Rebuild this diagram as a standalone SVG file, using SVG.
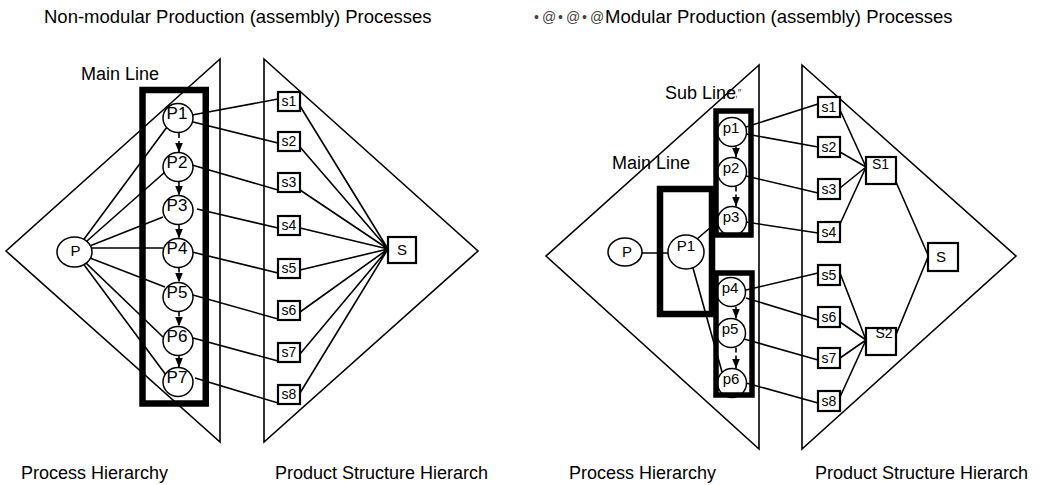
<svg xmlns="http://www.w3.org/2000/svg" width="1040" height="485" viewBox="0 0 1040 485">
<defs>
<style>
.tri{fill:none;stroke:#000;stroke-width:1.6}
.ln{fill:none;stroke:#000;stroke-width:1.6}
.nd{fill:#fff;stroke:#000;stroke-width:1.5}
.bx{fill:#fff;stroke:#000;stroke-width:2.2}
.thick{fill:none;stroke:#000;stroke-width:6.5}
.arr{fill:none;stroke:#000;stroke-width:1.6;stroke-dasharray:5 3;marker-end:url(#ah)}
text{font-family:"Liberation Sans",Arial,sans-serif;fill:#000}
.lbl{font-size:18px}
.pt{font-size:17px;text-anchor:middle}
.pr{font-size:15px;text-anchor:middle}
.st{font-size:14px;text-anchor:middle}
.junk{font-size:14px;fill:#444}
</style>
<marker id="ah" viewBox="0 0 10 8" refX="10" refY="4" markerWidth="10" markerHeight="8" markerUnits="userSpaceOnUse" orient="auto">
<path d="M0,0 L10,4 L0,8 z" fill="#000"/>
</marker>
</defs>
<rect width="1040" height="485" fill="#fff"/>

<g id="frames">
<polygon class="tri" points="220,59 6,251 220,442"/>
<polygon class="tri" points="264,59 478,251 264,442"/>
<polygon class="tri" points="759,65 546,256 759,449"/>
<polygon class="tri" points="802,65 1016,256 802,449"/>
</g>

<g id="connectors">
<path class="ln" d="M74.5,252 L167,127 M74.5,252 L165,172 M74.5,252 L163,217 M74.5,248 L163,248 M74.5,252 L165,287 M74.5,252 L163,337 M74.5,252 L166,375"/>
<path class="ln" d="M192,115 L278,99 M193,122 L278,143 M192,165 L278,190 M197,209 L278,228 M192,252 L278,273 M193,295 L278,319 M193,338 L278,361 M195,378 L278,403"/>
<path class="ln" d="M300,106 L388,249 M300,147 L388,249 M300,190 L388,249 M300,228 L388,249 M300,270 L388,249 M300,312 L388,249 M300,354 L388,249 M300,393 L388,249"/>
<line class="arr" x1="179" y1="133" x2="179" y2="152.5"/>
<line class="arr" x1="179" y1="181.5" x2="179" y2="195.5"/>
<line class="arr" x1="179" y1="224.5" x2="179" y2="238.5"/>
<line class="arr" x1="179" y1="267.5" x2="179" y2="282.5"/>
<line class="arr" x1="179" y1="311.5" x2="179" y2="326.5"/>
<line class="arr" x1="179" y1="355.5" x2="179" y2="367.5"/>

<path class="ln" d="M642,253 L668,253 M697,239 L711,227 M693,268 L722,372"/>
<path class="ln" d="M746,127 L818,104 M746,134 L818,147 M746,176 L818,193 M746,222 L818,233 M746,290 L818,273 M746,298 L818,320 M744,339 L818,360 M746,383 L818,403"/>
<path class="ln" d="M840,110 L866,167 M840,152 L866,167 M840,188 L866,167 M840,224 L866,167"/>
<path class="ln" d="M840,273 L866,340 M840,322 L866,340 M840,358 L866,340 M840,397 L866,340"/>
<path class="ln" d="M896,182 L928,255 M893,342 L928,257 M893,338 L894,346"/>
<line class="arr" x1="736" y1="146.5" x2="736" y2="157.5"/>
<line class="arr" x1="736" y1="186.5" x2="736" y2="206.5"/>
<line class="arr" x1="736" y1="306.5" x2="736" y2="318.5"/>
<line class="arr" x1="736" y1="347.5" x2="736" y2="368.5"/>
</g>

<g id="L-P"><ellipse class="nd" cx="74.5" cy="252" rx="17.5" ry="15"/><text class="pr" x="75.5" y="256">P</text></g>
<g id="L-P1"><ellipse class="nd" cx="178" cy="118" rx="15" ry="14.5"/><text class="pt" x="177" y="119">P1</text></g>
<g id="L-P2"><ellipse class="nd" cx="178" cy="167" rx="15" ry="14.5"/><text class="pt" x="177" y="168">P2</text></g>
<g id="L-P3"><ellipse class="nd" cx="178" cy="210" rx="15" ry="14.5"/><text class="pt" x="177" y="211">P3</text></g>
<g id="L-P4"><ellipse class="nd" cx="178" cy="253" rx="15" ry="14.5"/><text class="pt" x="177" y="254">P4</text></g>
<g id="L-P5"><ellipse class="nd" cx="178" cy="297" rx="15" ry="14.5"/><text class="pt" x="177" y="298">P5</text></g>
<g id="L-P6"><ellipse class="nd" cx="178" cy="341" rx="15" ry="14.5"/><text class="pt" x="177" y="342">P6</text></g>
<g id="L-P7"><ellipse class="nd" cx="178" cy="382" rx="15" ry="14.5"/><text class="pt" x="177" y="383">P7</text></g>
<g id="L-mainline"><rect class="thick" x="142.5" y="90" width="63.25" height="313.5"/></g>

<g id="L-s1"><rect class="bx" x="278" y="92" width="22" height="19"/><text class="st" x="289" y="106">s1</text></g>
<g id="L-s2"><rect class="bx" x="278" y="132" width="22" height="19"/><text class="st" x="289" y="146">s2</text></g>
<g id="L-s3"><rect class="bx" x="278" y="173" width="22" height="19"/><text class="st" x="289" y="187">s3</text></g>
<g id="L-s4"><rect class="bx" x="278" y="216" width="22" height="19"/><text class="st" x="289" y="230">s4</text></g>
<g id="L-s5"><rect class="bx" x="278" y="259" width="22" height="19"/><text class="st" x="289" y="273">s5</text></g>
<g id="L-s6"><rect class="bx" x="278" y="301" width="22" height="19"/><text class="st" x="289" y="315">s6</text></g>
<g id="L-s7"><rect class="bx" x="278" y="343" width="22" height="19"/><text class="st" x="289" y="357">s7</text></g>
<g id="L-s8"><rect class="bx" x="278" y="385" width="22" height="19"/><text class="st" x="289" y="399">s8</text></g>
<g id="L-S"><rect class="bx" x="388" y="237" width="28" height="26"/><text class="pr" x="402" y="255">S</text></g>

<g id="R-P"><ellipse class="nd" cx="625" cy="252" rx="17" ry="14"/><text class="pr" x="627" y="257">P</text></g>
<g id="R-P1"><ellipse class="nd" cx="686" cy="252" rx="18" ry="17"/><text class="pr" x="686" y="251">P1</text></g>
<g id="R-p1"><ellipse class="nd" cx="732" cy="132" rx="14.5" ry="14.5"/><text class="pr" x="731" y="133">p1</text></g>
<g id="R-p2"><ellipse class="nd" cx="732" cy="172" rx="14.5" ry="14.5"/><text class="pr" x="731" y="173">p2</text></g>
<g id="R-p3"><ellipse class="nd" cx="732" cy="221" rx="14.5" ry="14.5"/><text class="pr" x="731" y="222">p3</text></g>
<g id="R-p4"><ellipse class="nd" cx="731" cy="292" rx="14.5" ry="14.5"/><text class="pr" x="730" y="293">p4</text></g>
<g id="R-p5"><ellipse class="nd" cx="731" cy="333" rx="14.5" ry="14.5"/><text class="pr" x="730" y="334">p5</text></g>
<g id="R-p6"><ellipse class="nd" cx="732" cy="383" rx="14.5" ry="14.5"/><text class="pr" x="731" y="384">p6</text></g>
<g id="R-mainline"><rect class="thick" x="660" y="189" width="52" height="125"/></g>
<g id="R-subline1"><rect class="thick" x="716" y="111" width="35" height="124" style="stroke-width:5.5"/></g>
<g id="R-subline2"><rect class="thick" x="716" y="273" width="36" height="122" style="stroke-width:5.5"/></g>

<g id="R-s1"><rect class="bx" x="818" y="97" width="22" height="20"/><text class="st" x="829" y="112">s1</text></g>
<g id="R-s2"><rect class="bx" x="818" y="137" width="22" height="20"/><text class="st" x="829" y="152">s2</text></g>
<g id="R-s3"><rect class="bx" x="818" y="179" width="22" height="20"/><text class="st" x="829" y="194">s3</text></g>
<g id="R-s4"><rect class="bx" x="818" y="222" width="22" height="20"/><text class="st" x="829" y="237">s4</text></g>
<g id="R-s5"><rect class="bx" x="818" y="265" width="22" height="20"/><text class="st" x="829" y="280">s5</text></g>
<g id="R-s6"><rect class="bx" x="818" y="307" width="22" height="20"/><text class="st" x="829" y="322">s6</text></g>
<g id="R-s7"><rect class="bx" x="818" y="348" width="22" height="20"/><text class="st" x="829" y="363">s7</text></g>
<g id="R-s8"><rect class="bx" x="818" y="391" width="22" height="20"/><text class="st" x="829" y="406">s8</text></g>
<g id="R-S1"><rect class="bx" x="866" y="157" width="30" height="27"/><text class="st" x="880.5" y="169">S1</text></g>
<g id="R-S2"><rect class="bx" x="866" y="328" width="30" height="27"/><text class="st" x="884" y="338">S2</text></g>
<g id="R-S"><rect class="bx" x="928" y="243" width="30" height="28"/><text class="pr" x="941" y="262">S</text></g>

<g id="labels">
<text class="lbl" x="44" y="23" style="font-size:18.5px">Non-modular Production (assembly) Processes</text>
<text class="junk" x="534 542 558 566 582 590" y="22">•@•@•@</text>
<text class="lbl" x="605" y="23" style="font-size:18.5px">Modular Production (assembly) Processes</text>
<text class="lbl" x="81" y="80">Main Line</text>
<text class="lbl" x="612" y="169">Main Line</text>
<text class="lbl" x="665" y="99">Sub Line</text>
<text class="junk" x="735" y="97" style="font-size:10px">,″</text>
<text class="lbl" x="21" y="479">Process Hierarchy</text>
<text class="lbl" x="275" y="479">Product Structure Hierarch</text>
<text class="lbl" x="569" y="479">Process Hierarchy</text>
<text class="lbl" x="815" y="479">Product Structure Hierarch</text>
</g>
</svg>
